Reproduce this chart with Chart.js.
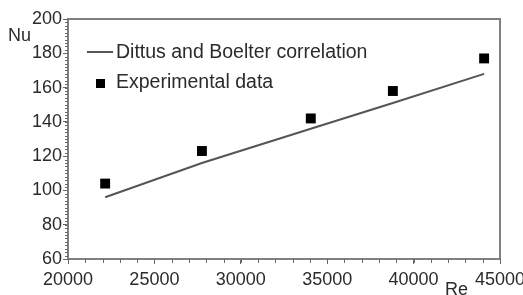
<!DOCTYPE html>
<html>
<head>
<meta charset="utf-8">
<script src="https://cdn.jsdelivr.net/npm/chart.js@4.4.0/dist/chart.umd.min.js"></script>
<style>
  html, body { margin: 0; padding: 0; background: #fff; }
  #wrap { width: 523px; height: 295px; }
</style>
</head>
<body>
<div id="wrap"><canvas id="c" width="523" height="295"></canvas></div>
<script>
// Data
const experimentRe = [22150, 27750, 34050, 38800, 44080];
const experimentNu = [104, 123, 142, 158, 177];
const correlationRe = [22150, 27750, 34050, 38800, 44080];
const correlationNu = [96, 116, 136, 151, 168];
const xTicks = [20000, 25000, 30000, 35000, 40000, 45000];
const yTicks = [60, 80, 100, 120, 140, 160, 180, 200];
const legendLabels = ['Dittus and Boelter correlation', 'Experimental data'];
const axisTitles = { x: 'Re', y: 'Nu' };

const FONT = "'Liberation Sans', Arial, Helvetica, sans-serif";
const TEXT = '#2b2b2b';
const AXIS = '#808080';

const decor = {
  id: 'decor',
  afterDraw(chart) {
    const { ctx, chartArea: a, scales: { x, y } } = chart;
    ctx.save();
    // top and right frame
    ctx.strokeStyle = AXIS;
    ctx.lineWidth = 2;
    ctx.beginPath();
    ctx.moveTo(a.left, a.top);
    ctx.lineTo(a.right, a.top);
    ctx.lineTo(a.right, a.bottom);
    ctx.stroke();
    // minor ticks
    ctx.lineWidth = 1;
    ctx.strokeStyle = '#666';
    ctx.beginPath();
    for (let v = y.min; v <= y.max; v += 2) {
      const py = Math.round(y.getPixelForValue(v)) + 0.5;
      ctx.moveTo(a.left - 3, py);
      ctx.lineTo(a.left, py);
    }
    for (let v = x.min; v <= x.max; v += 1000) {
      const px = Math.round(x.getPixelForValue(v)) + 0.5;
      ctx.moveTo(px, a.bottom);
      ctx.lineTo(px, a.bottom + 4);
    }
    ctx.stroke();
    // axis titles
    ctx.fillStyle = TEXT;
    ctx.font = '18px ' + FONT;
    ctx.textBaseline = 'alphabetic';
    ctx.textAlign = 'left';
    ctx.fillText(axisTitles.y, 8, 41);
    ctx.fillText(axisTitles.x, 445, 295);
    // legend
    ctx.font = '19.5px ' + FONT;
    ctx.strokeStyle = '#555';
    ctx.lineWidth = 2;
    ctx.beginPath();
    ctx.moveTo(87, 52);
    ctx.lineTo(113, 52);
    ctx.stroke();
    ctx.fillText(legendLabels[0], 116, 58);
    ctx.fillStyle = '#000';
    ctx.fillRect(96, 79, 9, 9);
    ctx.fillStyle = TEXT;
    ctx.fillText(legendLabels[1], 116, 88);
    ctx.restore();
  }
};

new Chart(document.getElementById('c'), {
  type: 'scatter',
  data: {
    datasets: [
      {
        label: legendLabels[0],
        data: correlationRe.map((v, i) => ({ x: v, y: correlationNu[i] })),
        showLine: true,
        borderColor: '#555',
        borderWidth: 2,
        pointRadius: 0,
        fill: false
      },
      {
        label: legendLabels[1],
        data: experimentRe.map((v, i) => ({ x: v, y: experimentNu[i] })),
        pointStyle: 'rect',
        pointRadius: 7,
        backgroundColor: '#000',
        borderColor: '#000',
        borderWidth: 0
      }
    ]
  },
  options: {
    responsive: false,
    animation: false,
    layout: { padding: { top: 19, right: 23, left: 0, bottom: 0 } },
    plugins: { legend: { display: false }, tooltip: { enabled: false } },
    scales: {
      x: {
        type: 'linear',
        min: 20000, max: 45000,
        afterBuildTicks(s) { s.ticks = xTicks.map(v => ({ value: v })); },
        afterFit(s) { s.height = 36; s.paddingLeft = 0; s.paddingRight = 0; },
        ticks: { font: { family: FONT, size: 18 }, color: TEXT, padding: 5, maxRotation: 0, autoSkip: false,
                 callback: v => String(v) },
        grid: { display: true, drawOnChartArea: false, drawTicks: true, tickLength: 5, color: '#666', tickWidth: 1 },
        border: { display: true, color: AXIS, width: 2 }
      },
      y: {
        type: 'linear',
        min: 60, max: 200,
        afterBuildTicks(s) { s.ticks = yTicks.map(v => ({ value: v })); },
        afterFit(s) { s.width = 68; s.paddingTop = 0; s.paddingBottom = 0; },
        ticks: { font: { family: FONT, size: 18 }, color: TEXT, padding: 1, autoSkip: false },
        grid: { display: true, drawOnChartArea: false, drawTicks: true, tickLength: 5, color: '#666', tickWidth: 1 },
        border: { display: true, color: AXIS, width: 2 }
      }
    }
  },
  plugins: [decor]
});
</script>
</body>
</html>
